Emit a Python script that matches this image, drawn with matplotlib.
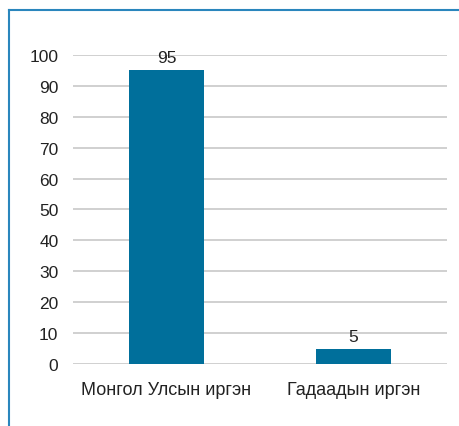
import matplotlib
matplotlib.use("Agg")
from matplotlib import pyplot as plt
from matplotlib.lines import Line2D

# data
categories = ["Монгол Улсын иргэн", "Гадаадын иргэн"]
values = [95, 5]
yticks = [0, 10, 20, 30, 40, 50, 60, 70, 80, 90, 100]

bar_color = "#006f9b"
frame_color = "#2a86bd"

plt.rcParams['font.family'] = ['Liberation Sans', 'DejaVu Sans']

fig = plt.figure(figsize=(4.6, 4.27), dpi=100)
ax = fig.add_axes([0.1587, 0.1452, 0.813, 0.7237])

x = list(range(len(categories)))
bars = ax.bar(x, values, width=0.4, color=bar_color, zorder=3)
for b, v in zip(bars, values):
    ax.text(b.get_x() + b.get_width() / 2, v + 1.6, str(v),
            ha="center", va="bottom", fontsize=12.5, color="#222222")

ax.set_xlim(-0.5, 1.5)
ax.set_ylim(0, 100)
ax.set_yticks(yticks)
ax.set_xticks(x)
ax.set_xticklabels(categories)
ax.tick_params(axis="both", length=0, colors="#222222")
ax.tick_params(axis="y", pad=10.5, labelsize=12.5)
ax.tick_params(axis="x", pad=12, labelsize=13)
ax.yaxis.grid(True, color="#c8c8c8", linewidth=1.2, zorder=0)
for s in ax.spines.values():
    s.set_visible(False)

# blue frame on top and left side
fig.add_artist(Line2D([9 / 460, 1.0], [1 - 11 / 427, 1 - 11 / 427],
                      transform=fig.transFigure, color=frame_color, linewidth=1.5))
fig.add_artist(Line2D([9 / 460, 9 / 460], [0.0, 1 - 11 / 427],
                      transform=fig.transFigure, color=frame_color, linewidth=1.5))

fig.savefig("out.png", dpi=100)
